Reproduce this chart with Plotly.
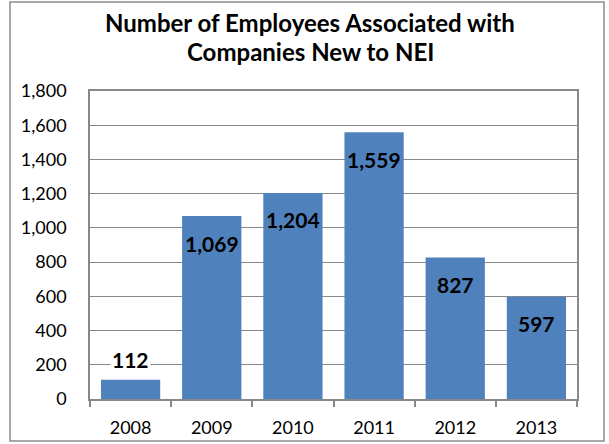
import plotly.graph_objects as go

# Employees associated with companies new to NEI, by year
years = ["2008", "2009", "2010", "2011", "2012", "2013"]
employees = [112, 1069, 1204, 1559, 827, 597]
y_ticks = [0, 200, 400, 600, 800, 1000, 1200, 1400, 1600, 1800]
y_tick_text = [f"{v:,}" for v in y_ticks]
title_lines = ["Number of Employees Associated with", "Companies New to NEI"]

BAR_BLUE = "#4F81BD"
GRID = "#888888"
FONT = "Lato"

# plot-area geometry in pixels (used to place the outer frame and title)
L, R, T, B = 90, 577, 91, 399
PW, PH = R - L, B - T


def px_x(x):
    return (x - L) / PW


def px_y(y):
    return (B - y) / PH


fig = go.Figure(
    go.Bar(
        x=years,
        y=employees,
        marker=dict(color=BAR_BLUE, line=dict(width=0)),
        hoverinfo="x+y",
    )
)

annotations = []
# Value labels: inside the top of tall bars, above the short one
for i, v in enumerate(employees):
    inside = v > 300
    annotations.append(
        dict(
            x=i,
            y=v,
            xref="x",
            yref="y",
            text=f"<b>{v:,}</b>",
            showarrow=False,
            yanchor="middle",
            yshift=-27 if inside else 20,
            font=dict(family=FONT, size=21, color="black"),
            bgcolor="rgba(0,0,0,0)" if inside else "white",
            borderpad=1,
        )
    )

# Two-line bold title
for line, py in zip(title_lines, [22, 52]):
    annotations.append(
        dict(
            x=px_x(310),
            y=px_y(py),
            xref="paper",
            yref="paper",
            text=f"<b>{line}</b>",
            showarrow=False,
            xanchor="center",
            yanchor="middle",
            font=dict(family=FONT, size=24, color="black"),
        )
    )

fig.update_layout(
    width=609,
    height=444,
    margin=dict(l=L, r=609 - R, t=T, b=444 - B),
    paper_bgcolor="white",
    plot_bgcolor="white",
    bargap=0.27,
    showlegend=False,
    annotations=annotations,
    shapes=[
        dict(
            type="rect",
            xref="paper",
            yref="paper",
            x0=px_x(10),
            x1=px_x(604),
            y0=px_y(441),
            y1=px_y(2),
            line=dict(color="#8C8C8C", width=1.5),
            layer="below",
        )
    ],
)

fig.update_xaxes(
    type="category",
    range=[-0.5, len(years) - 0.5],
    automargin=False,
    showline=True,
    linecolor=GRID,
    linewidth=1.5,
    mirror=True,
    ticks="outside",
    tickson="boundaries",
    ticklen=6,
    tickcolor=GRID,
    tickwidth=1.5,
    showgrid=False,
    tickangle=0,
    ticklabelstandoff=12,
    tickfont=dict(family=FONT, size=18, color="black"),
)

fig.update_yaxes(
    range=[0, 1800],
    tickvals=y_ticks,
    ticktext=y_tick_text,
    automargin=False,
    showline=True,
    linecolor=GRID,
    linewidth=1.5,
    mirror=True,
    showgrid=True,
    gridcolor=GRID,
    gridwidth=1.2,
    zeroline=False,
    ticks="",
    ticklabelstandoff=18,
    tickfont=dict(family=FONT, size=18, color="black"),
)

fig.write_html("out.html")
